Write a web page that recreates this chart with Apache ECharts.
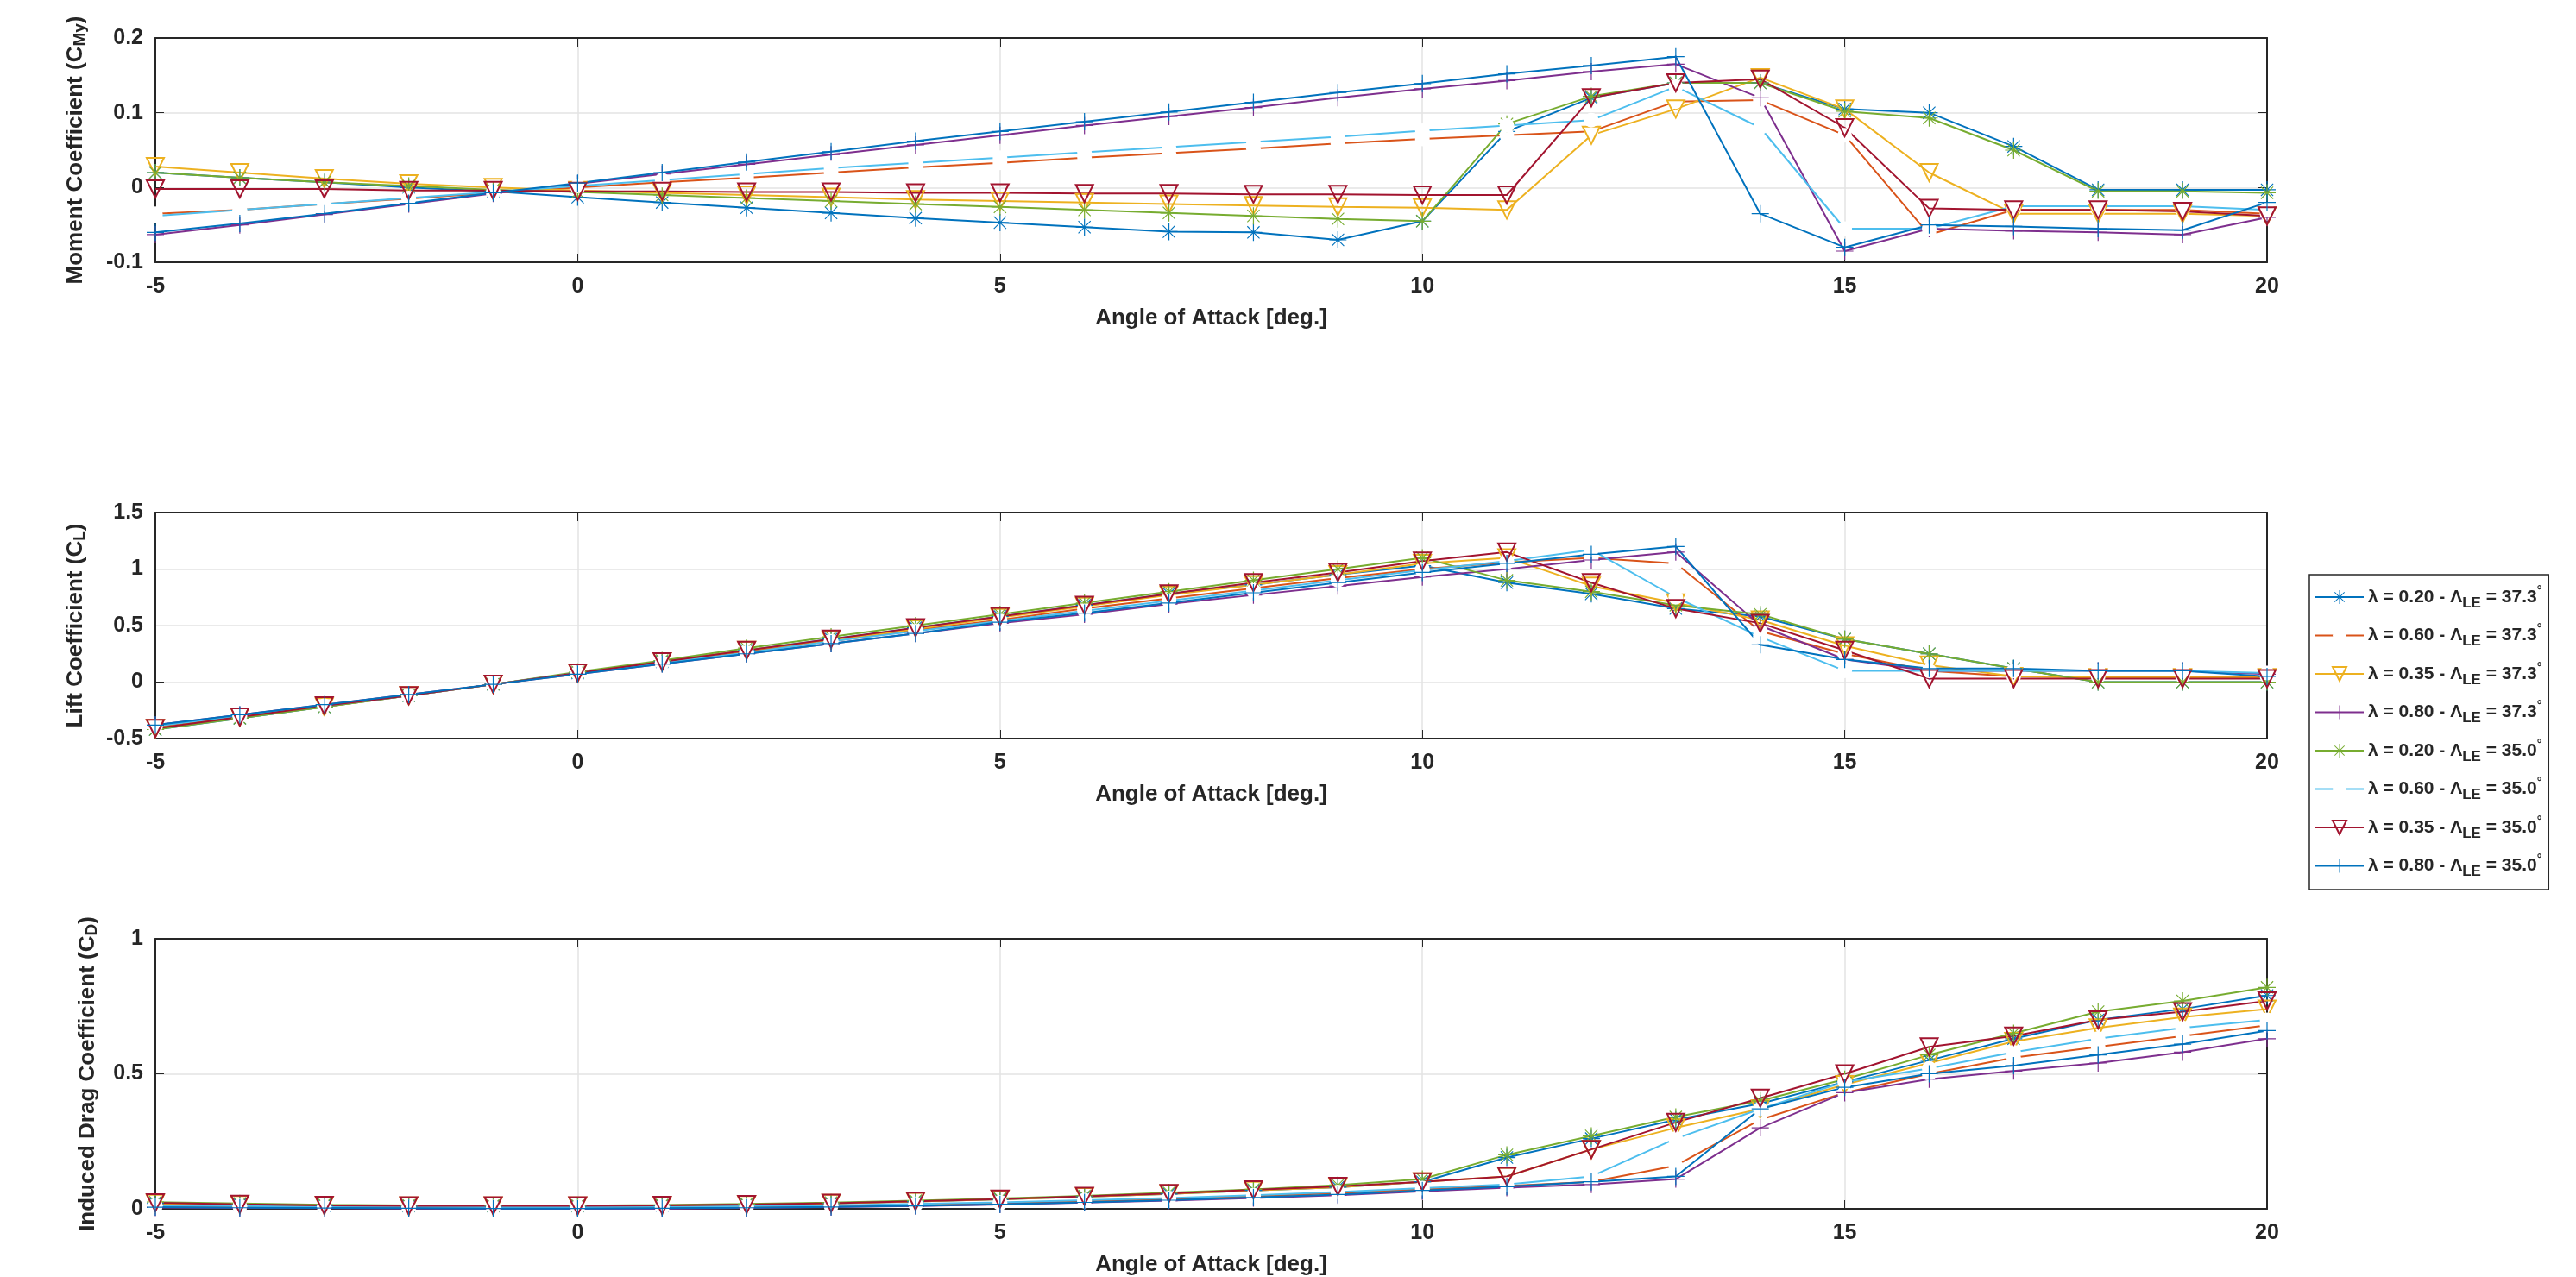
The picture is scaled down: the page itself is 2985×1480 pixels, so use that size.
<!DOCTYPE html>
<html><head><meta charset="utf-8">
<script src="https://cdn.jsdelivr.net/npm/echarts@6/dist/echarts.min.js"></script>
<style>html,body{margin:0;padding:0;background:#fff}#c{width:2985px;height:1480px}</style>
</head><body><div id="c"></div>
<script>
const alpha = [-5,-4,-3,-2,-1,0,1,2,3,4,5,6,7,8,9,10,11,12,13,14,15,16,17,18,19,20];
const names = ['0.20|37.3','0.60|37.3','0.35|37.3','0.80|37.3','0.20|35.0','0.60|35.0','0.35|35.0','0.80|35.0'];
const colors = ['#0072BD','#D95319','#EDB120','#7E2F8E','#77AC30','#4DBEEE','#A2142F','#0072BD'];

const cm1 = [0.02,0.013,0.007,0,-0.005,-0.013,-0.02,-0.027,-0.034,-0.041,-0.047,-0.053,-0.059,-0.06,-0.07,-0.045,0.075,0.12,0.14,0.14,0.105,0.1,0.055,-0.003,-0.003,-0.003];
const cm2 = [-0.035,-0.03,-0.022,-0.015,-0.007,0,0.007,0.013,0.02,0.027,0.033,0.04,0.046,0.052,0.059,0.065,0.07,0.075,0.115,0.117,0.07,-0.063,-0.03,-0.03,-0.03,-0.035];
const cm3 = [0.028,0.02,0.012,0.005,0,-0.004,-0.007,-0.01,-0.013,-0.016,-0.018,-0.02,-0.022,-0.024,-0.026,-0.027,-0.03,0.07,0.105,0.147,0.105,0.02,-0.035,-0.035,-0.035,-0.038];
const cm4 = [-0.063,-0.05,-0.036,-0.022,-0.008,0.005,0.018,0.031,0.044,0.057,0.07,0.083,0.095,0.107,0.12,0.132,0.143,0.155,0.165,0.12,-0.085,-0.055,-0.058,-0.06,-0.063,-0.04];
const cm5 = [0.02,0.013,0.007,0.002,-0.003,-0.006,-0.01,-0.014,-0.018,-0.022,-0.026,-0.03,-0.034,-0.038,-0.042,-0.045,0.085,0.122,0.14,0.14,0.102,0.093,0.05,-0.005,-0.005,-0.007];
const cm6 = [-0.038,-0.03,-0.022,-0.014,-0.006,0.002,0.01,0.018,0.026,0.033,0.04,0.047,0.054,0.061,0.068,0.076,0.083,0.09,0.135,0.08,-0.055,-0.055,-0.025,-0.025,-0.025,-0.03];
const cm7 = [-0.002,-0.002,-0.002,-0.004,-0.004,-0.005,-0.005,-0.006,-0.006,-0.007,-0.007,-0.008,-0.008,-0.009,-0.009,-0.01,-0.01,0.12,0.14,0.145,0.08,-0.028,-0.03,-0.03,-0.032,-0.038];
const cm8 = [-0.06,-0.048,-0.035,-0.021,-0.007,0.006,0.02,0.034,0.048,0.062,0.075,0.088,0.101,0.114,0.127,0.139,0.152,0.163,0.175,-0.035,-0.08,-0.05,-0.052,-0.055,-0.057,-0.02];

const cl1 = [-0.42,-0.32,-0.22,-0.12,-0.02,0.08,0.18,0.28,0.38,0.48,0.58,0.68,0.78,0.86,0.95,1.03,0.88,0.78,0.65,0.58,0.38,0.25,0.12,0,0,0];
const cl2 = [-0.4,-0.31,-0.21,-0.12,-0.02,0.08,0.17,0.27,0.36,0.46,0.55,0.65,0.74,0.83,0.92,1.0,1.06,1.1,1.05,0.45,0.25,0.1,0.05,0.05,0.05,0.05];
const cl3 = [-0.41,-0.31,-0.22,-0.12,-0.02,0.08,0.18,0.28,0.37,0.47,0.57,0.67,0.77,0.86,0.95,1.05,1.1,0.85,0.7,0.55,0.32,0.15,0.05,0.04,0.04,0.04];
const cl4 = [-0.38,-0.29,-0.2,-0.11,-0.02,0.07,0.16,0.25,0.34,0.43,0.52,0.6,0.69,0.77,0.85,0.93,1.0,1.08,1.15,0.5,0.2,0.1,0.1,0.1,0.1,0.07];
const cl5 = [-0.42,-0.32,-0.22,-0.12,-0.02,0.09,0.19,0.3,0.4,0.5,0.6,0.7,0.8,0.9,1.0,1.1,0.9,0.8,0.68,0.6,0.38,0.25,0.12,0,0,0];
const cl6 = [-0.39,-0.3,-0.21,-0.12,-0.02,0.08,0.17,0.26,0.36,0.45,0.54,0.63,0.72,0.81,0.9,0.99,1.07,1.17,0.75,0.4,0.1,0.1,0.1,0.1,0.1,0.08];
const cl7 = [-0.41,-0.31,-0.21,-0.12,-0.02,0.08,0.18,0.28,0.38,0.48,0.58,0.68,0.78,0.88,0.97,1.07,1.15,0.88,0.65,0.52,0.28,0.03,0.03,0.03,0.03,0.03];
const cl8 = [-0.38,-0.29,-0.2,-0.11,-0.02,0.07,0.16,0.25,0.34,0.43,0.53,0.61,0.7,0.79,0.88,0.97,1.05,1.13,1.2,0.33,0.2,0.12,0.12,0.1,0.1,0.05];

const cd1 = [0.02,0.015,0.012,0.01,0.01,0.01,0.012,0.015,0.02,0.027,0.035,0.045,0.055,0.068,0.08,0.1,0.19,0.26,0.33,0.39,0.47,0.55,0.63,0.7,0.74,0.79];
const cd2 = [0.01,0.008,0.006,0.005,0.004,0.004,0.005,0.007,0.01,0.015,0.02,0.028,0.036,0.046,0.058,0.072,0.085,0.1,0.16,0.33,0.43,0.5,0.56,0.6,0.64,0.68];
const cd3 = [0.02,0.015,0.012,0.01,0.01,0.01,0.012,0.015,0.02,0.027,0.035,0.045,0.055,0.068,0.08,0.1,0.12,0.22,0.3,0.37,0.46,0.54,0.62,0.67,0.71,0.74];
const cd4 = [0.005,0.003,0.002,0.001,0,0,0,0.003,0.006,0.01,0.016,0.023,0.03,0.04,0.05,0.065,0.078,0.09,0.11,0.3,0.43,0.48,0.51,0.54,0.58,0.63];
const cd5 = [0.025,0.02,0.015,0.013,0.012,0.012,0.014,0.018,0.023,0.03,0.038,0.048,0.06,0.072,0.088,0.11,0.2,0.27,0.34,0.4,0.48,0.57,0.65,0.73,0.77,0.82];
const cd6 = [0.012,0.01,0.008,0.007,0.006,0.006,0.007,0.01,0.013,0.018,0.024,0.032,0.04,0.05,0.062,0.077,0.09,0.12,0.26,0.37,0.47,0.52,0.58,0.63,0.67,0.7];
const cd7 = [0.022,0.017,0.013,0.011,0.011,0.011,0.013,0.016,0.021,0.028,0.036,0.046,0.057,0.07,0.083,0.1,0.12,0.22,0.32,0.41,0.5,0.6,0.64,0.7,0.73,0.77];
const cd8 = [0.006,0.004,0.003,0.002,0.001,0.001,0.002,0.004,0.007,0.011,0.017,0.024,0.032,0.042,0.053,0.068,0.082,0.1,0.12,0.37,0.45,0.5,0.53,0.57,0.61,0.66];

const CM=[cm1,cm2,cm3,cm4,cm5,cm6,cm7,cm8], CL=[cl1,cl2,cl3,cl4,cl5,cl6,cl7,cl8], CD=[cd1,cd2,cd3,cd4,cd5,cd6,cd7,cd8];

const PLUS='path://M-0.6,-10L0.6,-10L0.6,10L-0.6,10Z M-10,-0.6L10,-0.6L10,0.6L-10,0.6Z';
const STAR='path://M-0.6,-10L0.6,-10L0.6,10L-0.6,10Z M-10,-0.6L10,-0.6L10,0.6L-10,0.6Z M-7.5,-6.7L-6.7,-7.5L7.5,6.7L6.7,7.5Z M6.7,-7.5L7.5,-6.7L-6.7,7.5L-7.5,6.7Z';
const sym = [STAR,'emptyCircle','tri',PLUS,STAR,'emptyCircle','tri',PLUS];

const font = 'Liberation Sans';
const grids = [{left:180,width:2447,top:44,height:260},{left:180,width:2447,top:594,height:262},{left:180,width:2447,top:1088,height:322}];
const yDefs = [
 {min:-0.1,max:0.2,interval:0.1,name:'Moment Coefficient (C{s|My})'},
 {min:-0.5,max:1.5,interval:0.5,name:'Lift Coefficient (C{s|L})'},
 {min:0,max:1,interval:0.5,name:'Induced Drag Coefficient (C{s|D})'}
];
const xAxis = [];
grids.forEach((g,i)=>{
 xAxis.push({type:'value',gridIndex:i,min:-5,max:20,interval:5,
  name:'Angle of Attack [deg.]',nameLocation:'middle',nameGap:52,
  nameTextStyle:{fontFamily:font,fontWeight:'bold',fontSize:26,color:'#262626'},
  axisLine:{onZero:false,lineStyle:{color:'#262626',width:2}},axisTick:{inside:true,length:10},
  axisLabel:{fontFamily:font,fontWeight:'bold',fontSize:25,color:'#262626',margin:16},
  splitLine:{show:true,lineStyle:{color:'#e3e3e3',width:1.5}}});
 xAxis.push({type:'value',gridIndex:i,position:'top',min:-5,max:20,interval:5,
  axisLine:{onZero:false,lineStyle:{color:'#262626',width:2}},axisTick:{inside:true,length:10},axisLabel:{show:false},splitLine:{show:false}});
});
const yAxis = [];
yDefs.forEach((d,i)=>{
 yAxis.push({type:'value',gridIndex:i,min:d.min,max:d.max,interval:d.interval,
  name:d.name,nameLocation:'middle',nameGap:i==2?64:78,nameRotate:90,
  nameTextStyle:{fontFamily:font,fontWeight:'bold',fontSize:26,color:'#262626',rich:{s:{fontFamily:font,fontWeight:'bold',fontSize:19,color:'#262626',padding:[10,0,0,0]}}},
  axisLine:{onZero:false,lineStyle:{color:'#262626',width:2}},axisTick:{inside:true,length:10},
  axisLabel:{fontFamily:font,fontWeight:'bold',fontSize:25,color:'#262626',margin:14},
  splitLine:{show:true,lineStyle:{color:'#e3e3e3',width:1.5}}});
 yAxis.push({type:'value',gridIndex:i,position:'right',min:d.min,max:d.max,interval:d.interval,
  axisLine:{show:true,onZero:false,lineStyle:{color:'#262626',width:2}},axisTick:{inside:true,length:10},axisLabel:{show:false},splitLine:{show:false}});
});

const series=[];
[CM,CL,CD].forEach((set,g)=>{
 set.forEach((vals,k)=>{
  const [lam,sw]=names[k].split('|');
  const isTri = sym[k]==='tri';
  const hollow = isTri || sym[k]==='emptyCircle';
  series.push({type:'line',name:'λ = '+lam+' - Λ{s|LE} = '+sw+'{d|°}',xAxisIndex:g*2,yAxisIndex:g*2,
   data:alpha.map((a,j)=>[a,vals[j]]),
   symbol:isTri?'triangle':sym[k],symbolRotate:isTri?180:0,symbolSize:isTri?20:(sym[k]==='emptyCircle'?17:20),
   showAllSymbol:true,
   lineStyle:{color:colors[k],width:2},
   itemStyle:{color:hollow?'rgba(255,255,255,0)':colors[k],borderColor:colors[k],borderWidth:hollow?2:0},
   animation:false,z:2});
 });
});

const chart=echarts.init(document.getElementById('c'));
chart.setOption({
 animation:false,backgroundColor:'#fff',
 grid:grids,xAxis:xAxis,yAxis:yAxis,series:series,
 legend:{orient:'vertical',left:2676,top:666,itemGap:15,itemWidth:56,itemHeight:20,
  backgroundColor:'#fff',borderColor:'#262626',borderWidth:1.5,padding:[12,8,12,6],
  data:series.slice(0,8).map(s=>s.name),
  textStyle:{fontFamily:font,fontWeight:'bold',fontSize:21,color:'#262626',
   rich:{s:{fontFamily:font,fontWeight:'bold',fontSize:17,color:'#262626',padding:[14,0,0,0]},
         d:{fontFamily:font,fontSize:14,color:'#262626',padding:[0,0,14,0]}}}}
});
</script></body></html>
